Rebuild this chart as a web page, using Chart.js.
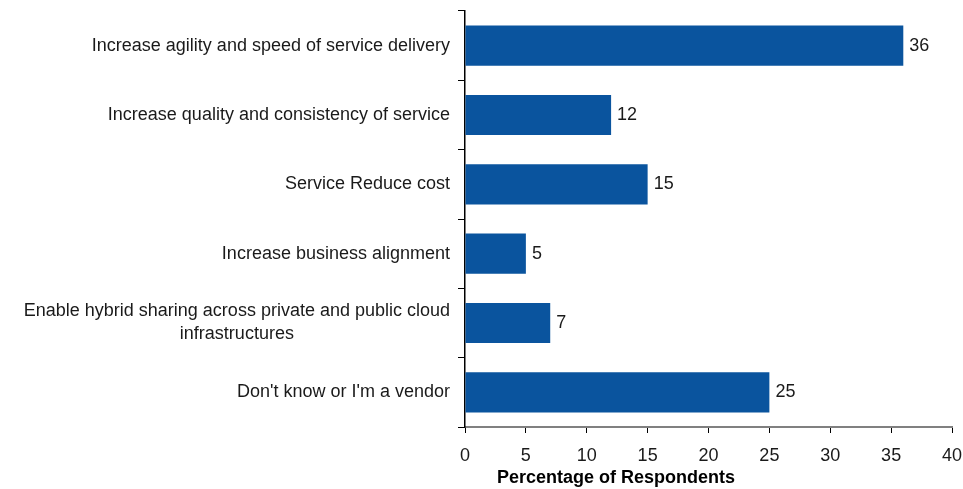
<!DOCTYPE html>
<html>
<head>
<meta charset="utf-8">
<script src="https://cdn.jsdelivr.net/npm/chart.js@4"></script>
<style>
  html, body { margin: 0; padding: 0; background: #fff; }
  #wrap { width: 963px; height: 489px; }
</style>
</head>
<body>
<div id="wrap"><canvas id="barchart"></canvas></div>
<script>
const categories = [
  'Increase agility and speed of service delivery',
  'Increase quality and consistency of service',
  'Service Reduce cost',
  'Increase business alignment',
  ['Enable hybrid sharing across private and public cloud', 'infrastructures'],
  "Don't know or I'm a vendor"
];
const respondents = [36, 12, 15, 5, 7, 25];
const xTicks = [0, 5, 10, 15, 20, 25, 30, 35, 40];
const xTitle = 'Percentage of Respondents';

const FONT = '"Liberation Sans", Arial, sans-serif';

// category names drawn by hand so the two-line label can be centred on itself
const categoryLabels = {
  id: 'categoryLabels',
  afterDraw(chart) {
    const ctx = chart.ctx;
    const y = chart.scales.y;
    const right = y.right - 15;
    ctx.save();
    ctx.font = '18px ' + FONT;
    ctx.fillStyle = '#1a1a1a';
    ctx.textBaseline = 'middle';
    ctx.textAlign = 'center';
    categories.forEach((cat, i) => {
      const lines = Array.isArray(cat) ? cat : [cat];
      const widest = Math.max(...lines.map(l => ctx.measureText(l).width));
      const mid = right - widest / 2;
      const cy = y.getPixelForTick(i);
      const lh = 23;
      lines.forEach((line, j) => {
        ctx.fillText(line, mid, cy + (j - (lines.length - 1) / 2) * lh);
      });
    });
    ctx.restore();
  }
};

// axis title sits left of the axis centre, under the 10-15 ticks
const axisTitle = {
  id: 'axisTitle',
  afterDraw(chart) {
    const ctx = chart.ctx;
    const x = chart.scales.x;
    ctx.save();
    ctx.font = 'bold 18px ' + FONT;
    ctx.fillStyle = '#000';
    ctx.textAlign = 'center';
    ctx.textBaseline = 'middle';
    ctx.fillText(xTitle, x.left + (x.right - x.left) * 0.31, x.bottom - 11);
    ctx.restore();
  }
};

// value printed just past the end of each bar
const valueLabels = {
  id: 'valueLabels',
  afterDatasetsDraw(chart) {
    const ctx = chart.ctx;
    const meta = chart.getDatasetMeta(0);
    ctx.save();
    ctx.font = '18px ' + FONT;
    ctx.fillStyle = '#1a1a1a';
    ctx.textAlign = 'left';
    ctx.textBaseline = 'middle';
    meta.data.forEach((bar, i) => {
      ctx.fillText(String(respondents[i]), bar.x + 6, bar.y);
    });
    ctx.restore();
  }
};

new Chart(
  document.getElementById('barchart'),
  {
    type: 'bar',
    data: {
      labels: categories,
      datasets: [{
        label: xTitle,
        data: respondents,
        backgroundColor: '#0a549e',
        borderWidth: 0,
        barPercentage: 0.58,
        categoryPercentage: 1
      }]
    },
    options: {
      indexAxis: 'y',
      responsive: true,
      maintainAspectRatio: false,
      animation: false,
      layout: { padding: { top: 11, right: 11, bottom: 0, left: 0 } },
      plugins: {
        legend: { display: false },
        tooltip: { enabled: false }
      },
      scales: {
        x: {
          min: 0,
          max: 40,
          afterBuildTicks: s => { s.ticks = xTicks.map(v => ({ value: v })); },
          afterFit: s => {
            s.height = 62;
            s.paddingLeft = 0;
            s.paddingRight = 0;
          },
          border: { color: '#808080', width: 2 },
          grid: {
            drawOnChartArea: false,
            drawTicks: true,
            tickLength: 6,
            color: '#000',
            lineWidth: 1
          },
          ticks: {
            color: '#1a1a1a',
            font: { family: FONT, size: 18 },
            padding: 12
          },
          title: { display: false }
        },
        y: {
          afterFit: s => { s.width = 465; },
          border: { color: '#000', width: 1.5 },
          grid: {
            offset: true,
            drawOnChartArea: false,
            drawTicks: true,
            tickLength: 7,
            color: '#000'
          },
          ticks: { display: false }
        }
      }
    },
    plugins: [categoryLabels, axisTitle, valueLabels]
  }
);
</script>
</body>
</html>
